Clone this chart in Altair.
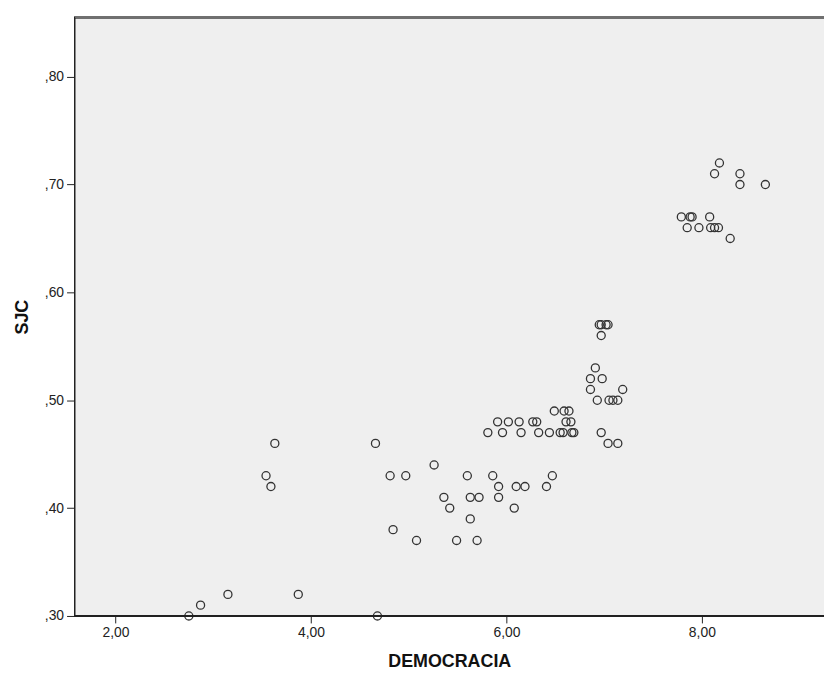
import altair as alt
import pandas as pd

democracia = [
    2.75, 4.68,
    2.87,
    3.15, 3.87,
    5.08, 5.49, 5.70,
    4.84,
    5.63,
    5.42, 6.08,
    5.36, 5.63, 5.72, 5.92,
    3.59, 5.92, 6.10, 6.19, 6.41,
    3.54, 4.81, 4.97, 5.60, 5.86, 6.47,
    5.26,
    3.63, 4.66, 7.04, 7.14,
    5.81, 5.96, 6.15, 6.33, 6.44, 6.55, 6.58, 6.67, 6.69, 6.97,
    5.91, 6.02, 6.13, 6.27, 6.31, 6.61, 6.66,
    6.49, 6.59, 6.64,
    6.93, 7.05, 7.09, 7.14,
    6.86, 7.19,
    6.86, 6.98,
    6.91,
    6.97,
    6.95, 6.97, 7.02, 7.04,
    8.29,
    7.85, 7.97, 8.09, 8.13, 8.17,
    7.79, 7.88, 7.90, 8.08,
    8.39, 8.65,
    8.13, 8.39,
    8.18,
]
sjc = [
    0.30, 0.30,
    0.31,
    0.32, 0.32,
    0.37, 0.37, 0.37,
    0.38,
    0.39,
    0.40, 0.40,
    0.41, 0.41, 0.41, 0.41,
    0.42, 0.42, 0.42, 0.42, 0.42,
    0.43, 0.43, 0.43, 0.43, 0.43, 0.43,
    0.44,
    0.46, 0.46, 0.46, 0.46,
    0.47, 0.47, 0.47, 0.47, 0.47, 0.47, 0.47, 0.47, 0.47, 0.47,
    0.48, 0.48, 0.48, 0.48, 0.48, 0.48, 0.48,
    0.49, 0.49, 0.49,
    0.50, 0.50, 0.50, 0.50,
    0.51, 0.51,
    0.52, 0.52,
    0.53,
    0.56,
    0.57, 0.57, 0.57, 0.57,
    0.65,
    0.66, 0.66, 0.66, 0.66, 0.66,
    0.67, 0.67, 0.67, 0.67,
    0.70, 0.70,
    0.71, 0.71,
    0.72,
]
x_ticks = [2, 4, 6, 8]
y_ticks = [0.30, 0.40, 0.50, 0.60, 0.70, 0.80]

df = pd.DataFrame({"DEMOCRACIA": democracia, "SJC": sjc})

W, H = 755, 603
FONT = "Liberation Sans"
AX = "#222222"

xscale = alt.Scale(domain=[1.58, 9.25], nice=False, zero=False)
yscale = alt.Scale(domain=[0.30, 0.855], nice=False, zero=False)

background = alt.Chart(df).mark_rect(color="#EFEFEF").encode(
    x=alt.value(0), x2=alt.value(W), y=alt.value(0), y2=alt.value(H)
)

points = alt.Chart(df).mark_point(
    shape="circle", filled=False, size=66, stroke="#333333", strokeWidth=1.3, opacity=1
).encode(
    x=alt.X("DEMOCRACIA:Q", scale=xscale,
            axis=alt.Axis(values=x_ticks, grid=False, title="DEMOCRACIA",
                          labelExpr="replace(format(datum.value, '.2f'), '.', ',')",
                          domain=True, domainColor=AX, domainWidth=1,
                          ticks=True, tickColor=AX, tickSize=7, tickWidth=1,
                          labelFontSize=14, labelColor=AX, labelFont=FONT,
                          labelPadding=3,
                          titleFont=FONT, titleFontSize=18, titleFontWeight="bold",
                          titleColor="#111111", titleBaseline="alphabetic", titleY=51,
                          zindex=2)),
    y=alt.Y("SJC:Q", scale=yscale,
            axis=alt.Axis(values=y_ticks, grid=False, title="SJC",
                          labelExpr="replace(format(datum.value, '.2f'), '0.', ',')",
                          domain=True, domainColor=AX, domainWidth=1,
                          ticks=True, tickColor=AX, tickSize=8, tickWidth=1,
                          labelFontSize=14, labelColor=AX, labelFont=FONT,
                          labelPadding=3,
                          titleFont=FONT, titleFontSize=18, titleFontWeight="bold",
                          titleColor="#111111", titleBaseline="alphabetic", titleX=-47,
                          zindex=2)),
)

top_border = alt.Chart(df).mark_rule(color="#707070", strokeWidth=2).encode(
    x=alt.value(0), x2=alt.value(W), y=alt.value(0)
)
left_line = alt.Chart(df).mark_rule(color=AX, strokeWidth=1).encode(
    x=alt.value(0), y=alt.value(0), y2=alt.value(H)
)
bottom_line = alt.Chart(df).mark_rule(color=AX, strokeWidth=1).encode(
    x=alt.value(0), x2=alt.value(W), y=alt.value(H)
)

chart = alt.layer(background, points, top_border, left_line, bottom_line).properties(
    width=W, height=H,
    autosize=alt.AutoSizeParams(type="none"),
    padding={"left": 67, "top": 7, "right": 0, "bottom": 52},
).configure_view(
    stroke="transparent"
).configure(background="white")

chart.save("out.html", embed_options={"renderer": "svg", "actions": False})
